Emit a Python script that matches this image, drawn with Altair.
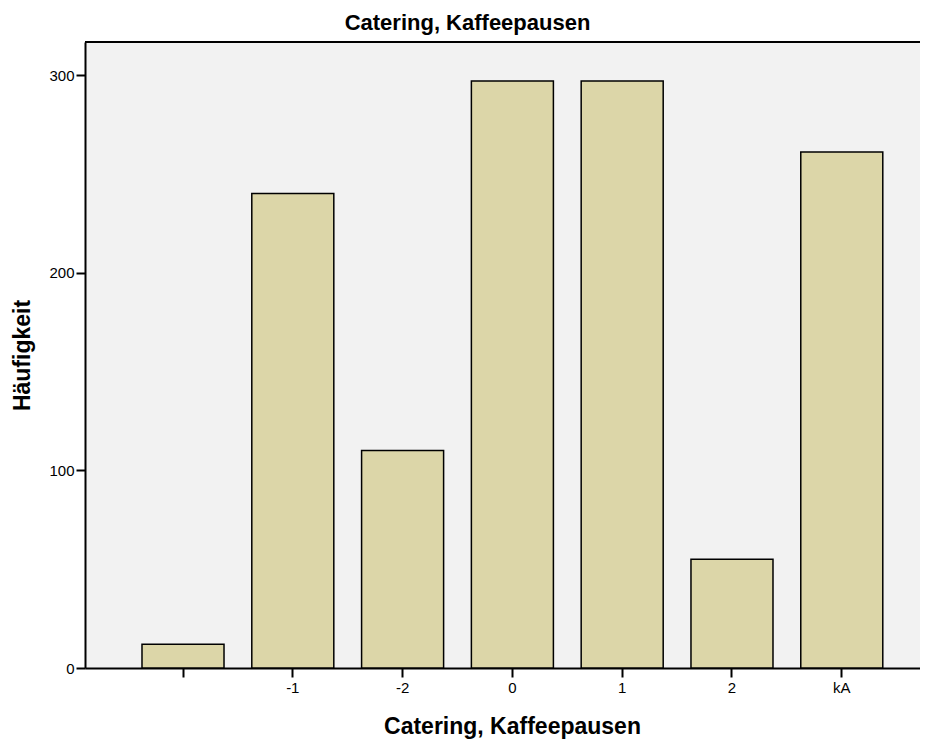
import altair as alt
import pandas as pd

categories = [" ", "-1", "-2", "0", "1", "2", "kA"]
counts = [12, 240, 110, 297, 297, 55, 261]
y_ticks = [0, 100, 200, 300]

df = pd.DataFrame({"cat": categories, "n": counts})

W, H = 835, 626

bars = alt.Chart(df).mark_bar(
    fill="#DCD6A8", stroke="#000000", strokeWidth=1.5
).encode(
    x=alt.X("cat:N", sort=categories,
            scale=alt.Scale(paddingInner=0.253, paddingOuter=0.429, align=0.605),
            axis=alt.Axis(title="Catering, Kaffeepausen", labelAngle=0,
                          labelFont="Liberation Sans", labelFontSize=15, labelColor="#000",
                          labelPadding=3, tickSize=9, tickWidth=2, tickColor="#000",
                          domainColor="#000", domainWidth=2,
                          titleFont="Liberation Sans", titleFontSize=23, titleFontWeight="bold",
                          titleColor="#000", titleX=427, titleY=58, titleBaseline="middle",
                          titleAlign="center")),
    y=alt.Y("n:Q", scale=alt.Scale(domain=[0, 316.7], nice=False, zero=True),
            axis=alt.Axis(title="Häufigkeit", values=y_ticks, grid=False,
                          labelFont="Liberation Sans", labelFontSize=15, labelColor="#000",
                          labelPadding=2, tickSize=9, tickWidth=2, tickColor="#000",
                          domainColor="#000", domainWidth=2,
                          titleFont="Liberation Sans", titleFontSize=23, titleFontWeight="bold",
                          titleColor="#000", titleX=-63, titleY=313, titleAngle=270,
                          titleBaseline="middle", titleAlign="center"))
)

top_border = alt.Chart(alt.Data(values=[{"a": 1}])).mark_rule(
    color="#000", strokeWidth=2
).encode(x=alt.value(0), x2=alt.value(W), y=alt.value(0))

chart = alt.layer(bars, top_border).properties(
    width=W, height=H,
    title=alt.TitleParams("Catering, Kaffeepausen", font="Liberation Sans",
                          fontSize=22, fontWeight="bold", color="#000",
                          anchor="middle", dx=-35, offset=6),
    autosize=alt.AutoSizeParams(type="none"),
    padding={"left": 77, "top": 34, "right": 0, "bottom": 74},
).configure_view(stroke=None, fill="#F2F2F2")

chart.save("out.html", embed_options={"renderer": "svg", "actions": False})
